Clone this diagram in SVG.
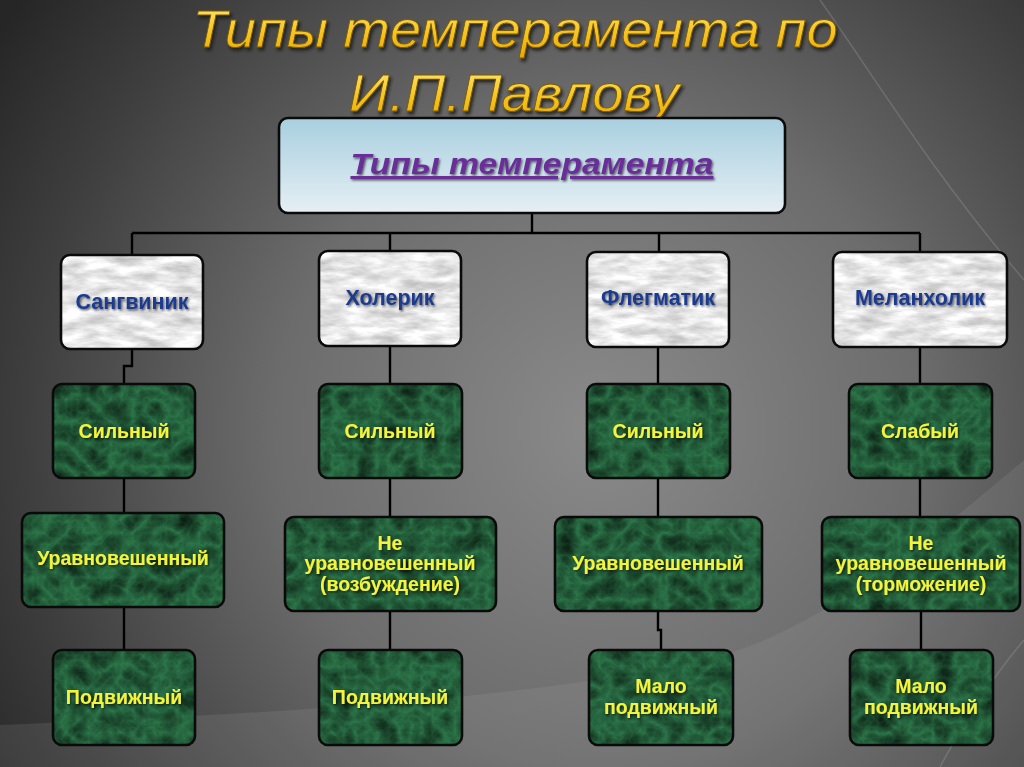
<svg xmlns="http://www.w3.org/2000/svg" width="1024" height="767" viewBox="0 0 1024 767">
<defs>
  <radialGradient id="bg" cx="600" cy="430" r="720" gradientUnits="userSpaceOnUse">
    <stop offset="0" stop-color="#8a8a8a"/>
    <stop offset="0.45" stop-color="#6c6c6c"/>
    <stop offset="0.8" stop-color="#3e3e3e"/>
    <stop offset="1" stop-color="#262626"/>
  </radialGradient>
  <linearGradient id="topbox" x1="0" y1="0" x2="0" y2="1">
    <stop offset="0" stop-color="#a8cfdf"/>
    <stop offset="1" stop-color="#e6eff4"/>
  </linearGradient>
  <linearGradient id="gold" x1="0" y1="0" x2="0" y2="1">
    <stop offset="0" stop-color="#ffe873"/>
    <stop offset="0.6" stop-color="#f6c21c"/>
    <stop offset="1" stop-color="#e9a800"/>
  </linearGradient>
  <filter id="shadow" x="-10%" y="-20%" width="120%" height="150%">
    <feDropShadow dx="2" dy="3" stdDeviation="1.5" flood-color="#1a1a1a" flood-opacity="0.8"/>
  </filter>
  <filter id="tshadow" x="-10%" y="-20%" width="120%" height="150%">
    <feDropShadow dx="1.2" dy="1.5" stdDeviation="0.8" flood-color="#000" flood-opacity="0.6"/>
  </filter>
  <filter id="marbleW" x="0" y="0" width="1" height="1" color-interpolation-filters="sRGB">
    <feTurbulence type="fractalNoise" baseFrequency="0.035 0.11" numOctaves="4" seed="7" result="n"/>
    <feColorMatrix in="n" type="matrix" values="0.45 0 0 0 0.68  0.45 0 0 0 0.68  0.45 0 0 0 0.68  0 0 0 0 1" result="c"/>
    <feComposite in="c" in2="SourceGraphic" operator="in"/>
  </filter>
  <filter id="marbleG" x="0" y="0" width="1" height="1" color-interpolation-filters="sRGB">
    <feTurbulence type="turbulence" baseFrequency="0.045" numOctaves="4" seed="11" result="n"/>
    <feColorMatrix in="n" type="matrix" values="-0.15 0 0 0 0.18  -0.4 0 0 0 0.48  -0.25 0 0 0 0.3  0 0 0 0 1" result="c"/>
    <feComposite in="c" in2="SourceGraphic" operator="in"/>
  </filter>
  <style>
    .wm { fill: #fff; filter: url(#marbleW); }
    .gm { fill: #fff; filter: url(#marbleG); }
    .ol { fill: none; stroke: #0a0a0a; stroke-width: 2.6; }
    .mid { font-family: "Liberation Sans", Arial, sans-serif; font-weight: bold; font-size: 21.5px; fill: #1d3b8e; text-anchor: middle; filter: url(#tshadow); }
    .gt { font-family: "Liberation Sans", Arial, sans-serif; font-weight: bold; font-size: 19.5px; fill: #f4f43c; text-anchor: middle; filter: url(#tshadow); }
    .title { font-family: "Liberation Sans", Arial, sans-serif; font-style: italic; font-size: 52px; fill: url(#gold); stroke: #7a5a00; stroke-width: 0.8; text-anchor: middle; filter: url(#shadow); }
    .conn { fill: none; stroke: #000; stroke-width: 2.4; }
  </style>
</defs>

<!-- background -->
<rect x="0" y="0" width="1024" height="767" fill="url(#bg)"/>
<path d="M0,725 C250,714 560,700 733,652 C830,620 930,540 1024,460 L1024,767 L0,767 Z" fill="#b0b0b0" opacity="0.14"/>
<path d="M820,0 C870,70 930,170 1024,280" fill="none" stroke="#9a9a9a" stroke-width="1.5" opacity="0.35"/>
<path d="M940,767 C965,720 990,680 1024,640" fill="none" stroke="#9a9a9a" stroke-width="1.5" opacity="0.35"/>

<!-- title -->
<g id="title">
  <text class="title" x="515" y="47" textLength="645" lengthAdjust="spacingAndGlyphs">Типы темперамента по</text>
  <text class="title" x="514" y="111" textLength="330" lengthAdjust="spacingAndGlyphs">И.П.Павлову</text>
</g>

<!-- connectors -->
<g id="connectors">
  <path class="conn" d="M532,213 V233"/>
  <path class="conn" d="M132,233 H920"/>
  <path class="conn" d="M132,233 V255 M390,233 V251 M659,233 V252 M920,233 V252"/>
  <path class="conn" d="M132,349 V366 H124 V384"/>
  <path class="conn" d="M390,346 V384 M658,347 V384 M920,347 V384"/>
  <path class="conn" d="M124,478 V513 M390,478 V517 M658,478 V517 M920,478 V517"/>
  <path class="conn" d="M124,607 V650 M390,611 V650 M921,611 V650"/>
  <path class="conn" d="M658,611 V630 H661 V650"/>
</g>

<!-- root -->
<g id="root">
  <rect x="279" y="118" width="506" height="95" rx="9" fill="url(#topbox)" stroke="#0a0a0a" stroke-width="2.6"/>
  <text x="532" y="174" font-family="'Liberation Sans', Arial, sans-serif" font-weight="bold" font-style="italic" font-size="30" fill="#6a2d98" text-anchor="middle" text-decoration="underline" textLength="363" lengthAdjust="spacingAndGlyphs" filter="url(#tshadow)">Типы темперамента</text>
</g>

<!-- temperament nodes -->
<g id="sanguine">
  <rect class="wm" x="61" y="255" width="142" height="94" rx="9"/>
  <rect class="ol" x="61" y="255" width="142" height="94" rx="9"/>
  <text class="mid" x="132" y="309">Сангвиник</text>
</g>
<g id="choleric">
  <rect class="wm" x="319" y="251" width="142" height="95" rx="9"/>
  <rect class="ol" x="319" y="251" width="142" height="95" rx="9"/>
  <text class="mid" x="390" y="305">Холерик</text>
</g>
<g id="phlegmatic">
  <rect class="wm" x="587" y="252" width="142" height="95" rx="9"/>
  <rect class="ol" x="587" y="252" width="142" height="95" rx="9"/>
  <text class="mid" x="658" y="305">Флегматик</text>
</g>
<g id="melancholic">
  <rect class="wm" x="833" y="252" width="174" height="95" rx="9"/>
  <rect class="ol" x="833" y="252" width="174" height="95" rx="9"/>
  <text class="mid" x="920" y="305">Меланхолик</text>
</g>

<!-- row 1 -->
<g id="s-strength">
  <rect class="gm" x="53" y="384" width="142" height="94" rx="9"/>
  <rect class="ol" x="53" y="384" width="142" height="94" rx="9"/>
  <text class="gt" x="124" y="438">Сильный</text>
</g>
<g id="c-strength">
  <rect class="gm" x="319" y="384" width="143" height="94" rx="9"/>
  <rect class="ol" x="319" y="384" width="143" height="94" rx="9"/>
  <text class="gt" x="390" y="438">Сильный</text>
</g>
<g id="p-strength">
  <rect class="gm" x="587" y="384" width="143" height="94" rx="9"/>
  <rect class="ol" x="587" y="384" width="143" height="94" rx="9"/>
  <text class="gt" x="658" y="438">Сильный</text>
</g>
<g id="m-strength">
  <rect class="gm" x="849" y="384" width="143" height="94" rx="9"/>
  <rect class="ol" x="849" y="384" width="143" height="94" rx="9"/>
  <text class="gt" x="920" y="438">Слабый</text>
</g>

<!-- row 2 -->
<g id="s-balance">
  <rect class="gm" x="22" y="513" width="202" height="94" rx="9"/>
  <rect class="ol" x="22" y="513" width="202" height="94" rx="9"/>
  <text class="gt" x="123" y="565">Уравновешенный</text>
</g>
<g id="c-balance">
  <rect class="gm" x="285" y="517" width="211" height="94" rx="9"/>
  <rect class="ol" x="285" y="517" width="211" height="94" rx="9"/>
  <text class="gt" x="390" y="550">Не</text>
  <text class="gt" x="390" y="570">уравновешенный</text>
  <text class="gt" x="390" y="591">(возбуждение)</text>
</g>
<g id="p-balance">
  <rect class="gm" x="555" y="517" width="207" height="94" rx="9"/>
  <rect class="ol" x="555" y="517" width="207" height="94" rx="9"/>
  <text class="gt" x="658" y="570">Уравновешенный</text>
</g>
<g id="m-balance">
  <rect class="gm" x="822" y="517" width="198" height="94" rx="9"/>
  <rect class="ol" x="822" y="517" width="198" height="94" rx="9"/>
  <text class="gt" x="921" y="550">Не</text>
  <text class="gt" x="921" y="570">уравновешенный</text>
  <text class="gt" x="921" y="591">(торможение)</text>
</g>

<!-- row 3 -->
<g id="s-mobility">
  <rect class="gm" x="53" y="650" width="142" height="95" rx="9"/>
  <rect class="ol" x="53" y="650" width="142" height="95" rx="9"/>
  <text class="gt" x="124" y="704">Подвижный</text>
</g>
<g id="c-mobility">
  <rect class="gm" x="319" y="650" width="143" height="95" rx="9"/>
  <rect class="ol" x="319" y="650" width="143" height="95" rx="9"/>
  <text class="gt" x="390" y="704">Подвижный</text>
</g>
<g id="p-mobility">
  <rect class="gm" x="589" y="650" width="144" height="95" rx="9"/>
  <rect class="ol" x="589" y="650" width="144" height="95" rx="9"/>
  <text class="gt" x="661" y="693">Мало</text>
  <text class="gt" x="661" y="714">подвижный</text>
</g>
<g id="m-mobility">
  <rect class="gm" x="850" y="650" width="143" height="95" rx="9"/>
  <rect class="ol" x="850" y="650" width="143" height="95" rx="9"/>
  <text class="gt" x="921" y="693">Мало</text>
  <text class="gt" x="921" y="714">подвижный</text>
</g>
</svg>
